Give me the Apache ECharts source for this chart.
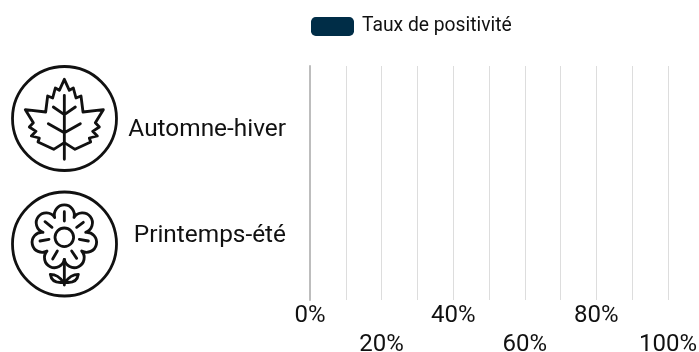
<!DOCTYPE html>
<html><head><meta charset="utf-8">
<style>html,body{margin:0;padding:0;background:#fff}#c{width:699px;height:352px}</style>
<script src="https://cdn.jsdelivr.net/npm/echarts@6/dist/echarts.min.js"></script>
</head><body><div id="c"></div>
<script>
const categories = ['Automne-hiver', 'Printemps-été'];
const seriesName = 'Taux de positivité';
const positivityRates = [0, 0];
const tickLabelsTop = ['0%', '40%', '80%'];
const tickLabelsBottom = ['20%', '60%', '100%'];

const ink = '#111';
const leafPaths = [
  'M133 22 L148 55 L160 48 L168 78 L183 72 L189 120 L250 113 L226 152 L238 165 L218 178 L232 192 L208 198 L212 210 L165 232 L133 212 L101 232 L54 210 L58 198 L34 192 L48 178 L28 165 L40 152 L16 113 L77 120 L83 72 L98 78 L106 48 L118 55 Z',
  'M133 70 L133 262 M133 128 L100 105 M133 128 L166 105 M133 182 L85 155 M133 182 L181 155'
];
const flowerPaths = [
  'M147 67.5 A30 30 0 1 1 182 112 A30 30 0 1 1 170 168 A30 30 0 1 1 118 193 A30 30 0 1 1 66 168 A30 30 0 1 1 54 112 A30 30 0 1 1 89 67.5 A30 30 0 1 1 147 67.5 Z',
  'M118 50 L118 78 M155 97 L175 82 M163 133 L190 138 M140 168 L155 190 M97 168 L83 192 M72 133 L45 138 M81 97 L60 80 M118 193 L118 270 M115 262 Q100 238 76 238 Q80 266 115 262 M121 262 Q136 238 160 238 Q156 266 121 262'
];

function ring(cx, cy) {
  return { type: 'circle', silent: true, shape: { cx, cy, r: 52 }, style: { fill: 'none', stroke: ink, lineWidth: 2.8 } };
}
function glyph(x, y, w, h, paths) {
  const svg = '<svg xmlns="http://www.w3.org/2000/svg" width="' + w + '" height="' + h + '" viewBox="0 0 ' + (w * 3) + ' ' + (h * 3) + '">' +
    paths.map(d => '<path d="' + d + '" fill="none" stroke="' + ink + '" stroke-width="8.5" stroke-linejoin="round" stroke-linecap="round"/>').join('') + '</svg>';
  return {
    type: 'image', silent: true,
    style: { image: 'data:image/svg+xml;charset=utf-8,' + encodeURIComponent(svg), x, y, width: w, height: h }
  };
}

const chart = echarts.init(document.getElementById('c'), null, { renderer: 'canvas' });
chart.setOption({
  animation: false,
  textStyle: { fontFamily: 'Roboto' },
  legend: {
    left: 306, top: 12, itemWidth: 43, itemHeight: 19, itemGap: 0,
    textStyle: { fontFamily: 'Roboto', fontSize: 19.3, color: '#111', padding: [0, 0, 0, 3] },
    itemStyle: { borderRadius: 3 },
    data: [seriesName]
  },
  grid: { left: 310, right: 31, top: 66, bottom: 52, containLabel: false, outerBoundsMode: 'none' },
  xAxis: {
    type: 'value', min: 0, max: 100, interval: 10,
    axisLine: { show: false }, axisTick: { show: false },
    splitLine: { show: true, lineStyle: { color: '#dddddd', width: 1 } },
    axisLabel: {
      show: true, margin: 1, hideOverlap: false, color: '#111',
      fontFamily: 'Roboto', fontSize: 24, lineHeight: 29, verticalAlign: 'top',
      formatter: v => {
        const t = v + '%';
        if (tickLabelsTop.includes(t)) return t;
        if (tickLabelsBottom.includes(t)) return '\n' + t;
        return '';
      }
    }
  },
  yAxis: {
    type: 'category', inverse: true,
    data: [
      { value: categories[0], textStyle: { verticalAlign: 'top', lineHeight: 11 } },
      { value: categories[1], textStyle: { verticalAlign: 'bottom', lineHeight: 11 } }
    ],
    axisLine: { show: true, lineStyle: { color: '#bdbdbd', width: 2 } },
    axisTick: { show: false },
    splitLine: { show: false },
    axisLabel: { margin: 24, color: '#111', fontFamily: 'Roboto', fontSize: 24.4, align: 'right' }
  },
  series: [{
    name: seriesName, type: 'bar', data: positivityRates,
    itemStyle: { color: '#002d47' }
  }],
  graphic: [
    ring(64.5, 118.5), glyph(20, 72, 90, 92, leafPaths),
    ring(64.5, 244), glyph(25, 195, 80, 95, flowerPaths),
    { type: 'circle', silent: true, shape: { cx: 64.3, cy: 237.3, r: 9.3 }, style: { fill: 'none', stroke: ink, lineWidth: 2.8 } }
  ]
});
</script></body></html>
